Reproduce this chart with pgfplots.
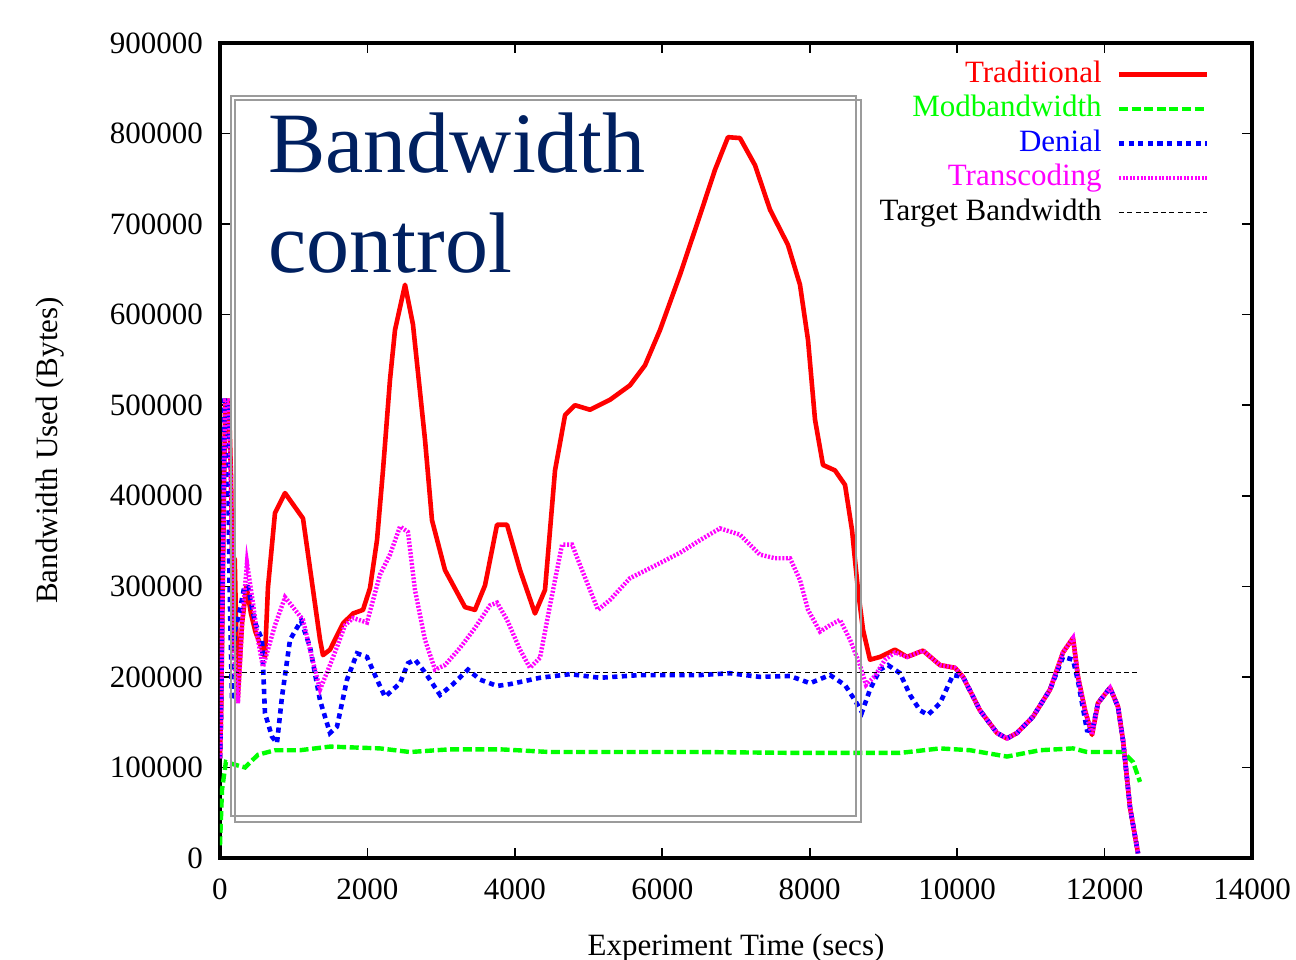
\documentclass[border=0pt]{standalone}
\usepackage{fontspec}
\setmainfont{Liberation Serif}
\usepackage{pgfplots}
\pgfplotsset{compat=1.18}
\definecolor{navy}{RGB}{0,32,96}
\definecolor{boxgray}{RGB}{155,155,155}
\definecolor{mygreen}{RGB}{0,255,0}
\definecolor{mymagenta}{RGB}{255,0,255}
\definecolor{myred}{RGB}{255,0,0}
\definecolor{myblue}{RGB}{0,0,255}
\begin{document}
\begin{tikzpicture}
\begin{axis}[
  scale only axis, width=516bp, height=407.5bp,
  xmin=0, xmax=14000, ymin=0, ymax=900000,
  xtick={0,2000,...,14000},
  ytick={0,100000,...,900000},
  scaled ticks=false,
  /pgf/number format/fixed,
  /pgf/number format/precision=0,
  /pgf/number format/1000 sep={},
  /pgf/number format/assume math mode=true,
  font=\fontsize{15.5bp}{18bp}\selectfont,
  axis line style={line width=2bp},
  every tick/.style={line width=0.8bp, black},
  major tick length=5bp,
  tick align=inside,
  xtick pos=both, ytick pos=both,
  yticklabel style={xshift=-5bp},
  xticklabel style={yshift=-7bp},
  xlabel={Experiment Time (secs)},
  ylabel={Bandwidth Used (Bytes)},
  xlabel style={at={(axis description cs:0.5,-0.1067)}, anchor=center, yshift=-1.5bp},
  ylabel style={at={(axis description cs:-0.1647,0.5)}, anchor=center},
  legend plot pos=right,
  legend cell align=right,
  legend image code/.code={\draw[#1] plot coordinates {(0bp,0bp) (22bp,0bp) (44bp,0bp)};},
  legend style={at={(rel axis cs:0.959,0.979)}, anchor=north east, draw=none, fill=none,
    inner sep=0pt, row sep=3.25bp, column sep=7.5bp,
    nodes={inner sep=0pt, text height=11bp, text depth=3bp}},
]
\addplot[myred, line width=2.3bp, line join=round] coordinates {
(0,110000)(15,160000)(70,505000)(120,505000)(150,420000)(180,230000)(200,330000)(240,175000)
(300,260000)(360,300000)(420,270000)(480,250000)(550,235000)(610,222000)(651,299000)(746,381000)
(882,403000)(1126,375000)(1357,241000)(1397,224000)(1492,230000)(1669,259000)(1805,270000)
(1940,274000)(2035,298000)(2130,351000)(2211,428000)(2306,528000)(2374,583000)(2510,633000)
(2618,589000)(2781,462000)(2876,373000)(3052,318000)(3324,277000)(3459,274000)(3595,301000)
(3758,368000)(3894,368000)(4070,318000)(4273,270000)(4409,296000)(4545,428000)(4681,489000)
(4816,500000)(5019,495000)(5291,506000)(5562,522000)(5765,544000)(5969,583000)(6240,644000)
(6512,710000)(6715,760000)(6891,796000)(7054,795000)(7258,765000)(7461,716000)(7705,677000)
(7868,633000)(7977,572000)(8072,484000)(8180,434000)(8343,428000)(8479,412000)(8574,362000)
(8655,296000)(8723,252000)(8818,219000)(8953,222000)(9157,230000)(9320,222000)(9537,229000)
(9768,213000)(9971,210000)(10080,200000)(10310,163000)(10541,138000)(10676,132000)(10812,138000)
(11029,156000)(11260,186000)(11436,227000)(11572,243000)(11640,200000)(11735,163000)(11830,136000)
(11911,171000)(12074,188000)(12182,167000)(12250,130000)(12345,56000)(12454,5000)
};
\addlegendentry{\textcolor{myred}{Traditional}}
\addplot[mygreen, line width=2.2bp, dash pattern=on 4.5bp off 1.8bp] coordinates {
(0,14000)(27,75000)(80,106000)(203,103000)(339,100000)(515,114000)(746,119000)(1085,119000)
(1492,123000)(2171,121000)(2577,117000)(3120,120000)(3798,120000)(4477,117000)(6512,117000)
(7868,116000)(9225,116000)(9768,121000)(10175,119000)(10676,112000)(11124,119000)(11572,121000)
(11762,117000)(12250,117000)(12386,106000)(12481,84000)
};
\addlegendentry{\textcolor{mygreen}{Modbandwidth}}
\addplot[myblue, line width=2.3bp, dash pattern=on 2.6bp off 2.2bp] coordinates {
(0,110000)(15,160000)(60,505000)(100,505000)(130,300000)(163,174000)(200,250000)(271,274000)
(330,300000)(380,299000)(475,260000)(570,241000)(610,160000)(705,134000)(773,127000)(841,178000)
(950,241000)(1100,262000)(1221,233000)(1357,174000)(1492,138000)(1587,145000)(1723,197000)
(1859,226000)(1994,222000)(2130,197000)(2238,178000)(2442,193000)(2550,215000)(2645,219000)
(2781,205000)(2985,180000)(3147,191000)(3364,208000)(3527,197000)(3758,190000)(3935,192000)
(4341,199000)(4748,203000)(5155,199000)(5698,202000)(6512,202000)(6919,204000)(7325,200000)
(7732,201000)(8004,193000)(8275,202000)(8479,191000)(8614,174000)(8709,161000)(8818,186000)
(8953,208000)(9062,213000)(9225,204000)(9361,180000)(9496,163000)(9605,158000)(9768,171000)
(9944,202000)(10080,200000)(10310,163000)(10541,138000)(10676,132000)(10812,138000)
(11029,156000)(11260,186000)(11436,222000)(11572,219000)(11640,195000)(11762,141000)
(11830,140000)(11911,171000)(12074,188000)(12182,167000)(12250,130000)(12345,56000)(12454,5000)
};
\addlegendentry{\textcolor{myblue}{Denial}}
\addplot[mymagenta, line width=2.2bp, dash pattern=on 1bp off 0.8bp] coordinates {
(0,110000)(15,160000)(70,505000)(120,505000)(150,400000)(180,250000)(210,200000)(244,171000)
(300,260000)(366,326000)(450,280000)(515,241000)(583,211000)(650,230000)(746,257000)(882,288000)
(1126,263000)(1221,230000)(1357,186000)(1492,213000)(1587,233000)(1696,257000)(1805,265000)
(1994,260000)(2171,313000)(2306,335000)(2442,366000)(2550,360000)(2645,296000)(2781,241000)
(2917,208000)(3052,213000)(3256,232000)(3459,254000)(3663,279000)(3758,282000)(3894,263000)
(4070,230000)(4205,210000)(4341,221000)(4477,279000)(4640,346000)(4776,346000)(4911,318000)
(5128,274000)(5291,285000)(5562,309000)(5833,320000)(6240,337000)(6512,351000)(6783,364000)
(7054,357000)(7325,335000)(7529,331000)(7732,331000)(7868,307000)(7977,274000)(8140,250000)
(8275,257000)(8411,263000)(8547,241000)(8682,213000)(8764,191000)(8886,201000)(9021,219000)
(9157,227000)(9320,222000)(9537,229000)(9768,213000)(9971,210000)(10080,200000)(10310,163000)
(10541,138000)(10676,132000)(10812,138000)(11029,156000)(11260,186000)(11436,227000)
(11572,243000)(11640,200000)(11735,163000)(11830,136000)(11911,171000)(12074,188000)
(12182,167000)(12250,130000)(12345,56000)(12454,5000)
};
\addlegendentry{\textcolor{mymagenta}{Transcoding}}
\addplot[black, line width=0.6bp, dash pattern=on 2.5bp off 1.7bp] coordinates {
(70,205000)(12480,205000)
};
\addlegendentry{Target Bandwidth}
\draw[boxgray, line width=1bp] (axis cs:149,841500) rectangle (axis cs:8628,46400);
\draw[boxgray, line width=1bp] (axis cs:203,837000) rectangle (axis cs:8696,39800);
\node[anchor=base west, inner sep=0pt, text=navy, font=\fontsize{43bp}{50bp}\selectfont] at (axis cs:651,757500) {Bandwidth};
\node[anchor=base west, inner sep=0pt, text=navy, font=\fontsize{43bp}{50bp}\selectfont] at (axis cs:651,647000) {control};
\coordinate (bl) at (rel axis cs:0,0);
\coordinate (tr) at (rel axis cs:1,1);
\end{axis}
\pgfresetboundingbox
\path[use as bounding box] ([shift={(-110bp,-51bp)}]bl) rectangle ([shift={(22bp,21.5bp)}]tr);
\end{tikzpicture}
\end{document}
